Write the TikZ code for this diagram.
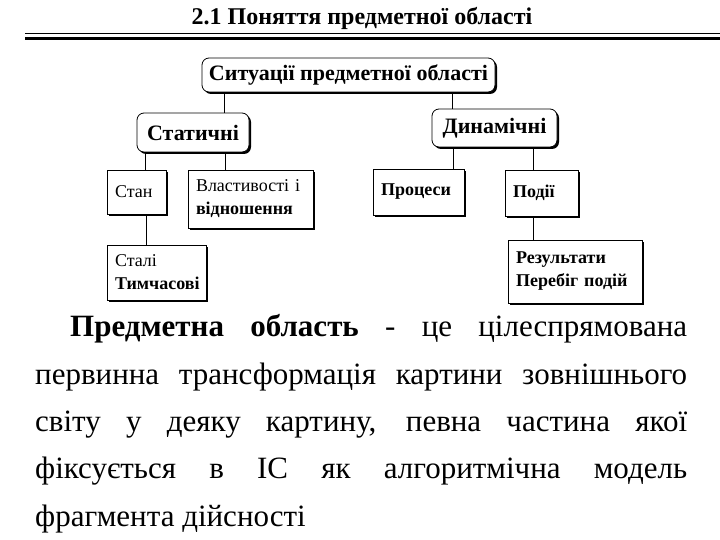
\documentclass[tikz,border=0pt]{standalone}
\usepackage{fontspec}
\setmainfont{Liberation Serif}
\usetikzlibrary{shadows}
\begin{document}
\begin{tikzpicture}[x=1pt,y=-1pt,
  shad/.style={drop shadow={shadow xshift=2pt,shadow yshift=-2pt,fill=black,opacity=1}},
  rbox/.style={draw,fill=white,rounded corners=7pt,thick,shad,inner sep=0pt,font=\bfseries\fontsize{22}{24}\selectfont},
  sbox/.style={draw,fill=white,thick,shad,inner xsep=8pt,inner ysep=0pt,align=left,font=\fontsize{18}{23}\selectfont},
  link/.style={thick}]
\useasboundingbox (0,0) rectangle (720,540);
\node[font=\bfseries\fontsize{24}{26}\selectfont] (title) at (362,18) {2.1 Поняття предметної області};
\draw[line width=3pt] (25,39) -- (720,39);
\draw[line width=1pt] (25,34) -- (720,34);
\node[rbox,minimum width=293,minimum height=34] (sit) at (348.5,75) {Ситуації предметної області};
\node[rbox,minimum width=112,minimum height=39] (stat) at (193,132.5) {Статичні};
\node[rbox,minimum width=125,minimum height=38] (dyn) at (494.5,128) {Динамічні};
\node[sbox,text width=43,minimum height=44] (stan) at (136.5,192) {Стан};
\node[sbox,text width=109,minimum height=58] (vlas) at (250.5,199) {Властивості і\\\textbf{відношення}};
\node[sbox,text width=75,minimum height=46,font=\bfseries\fontsize{18}{23}\selectfont] (proc) at (418.5,192) {Процеси};
\node[sbox,text width=57,minimum height=46,font=\bfseries\fontsize{18}{23}\selectfont] (pod) at (541.5,193) {Події};
\node[sbox,text width=83,minimum height=55] (stali) at (156.5,272.5) {Сталі\\\textbf{Тимчасові}};
\node[sbox,text width=118,minimum height=63,font=\bfseries\fontsize{18}{23}\selectfont] (rez) at (575,271.5) {Результати\\Перебіг подій};
\draw[link] (224,0 |- sit.south) coordinate (a1) -- (a1 |- stat.north);
\draw[link] (452,0 |- sit.south) coordinate (a2) -- (a2 |- dyn.north);
\draw[link] (145,0 |- stat.south) coordinate (b1) -- (b1 |- stan.north);
\draw[link] (225,0 |- stat.south) coordinate (b2) -- (b2 |- vlas.north);
\draw[link] (453,0 |- dyn.south) coordinate (c1) -- (c1 |- proc.north);
\draw[link] (533,0 |- dyn.south) coordinate (c2) -- (c2 |- pod.north);
\draw[link] (146,0 |- stan.south) coordinate (d1) -- (d1 |- stali.north);
\draw[link] (533,0 |- pod.south) coordinate (e1) -- (e1 |- rez.north);
\begin{scope}[every node/.style={anchor=base west,inner sep=0pt,font=\fontsize{31}{33}\selectfont}]
\node (p1) at (70,336) {\makebox[617pt][s]{\textbf{Предметна область} - це цілеспрямована}};
\node (p2) at (35,384) {\makebox[652pt][s]{первинна трансформація картини зовнішнього}};
\node (p3) at (35,431) {\makebox[652pt][s]{світу у деяку картину, певна частина якої}};
\node (p4) at (35,478) {\makebox[652pt][s]{фіксується в ІС як алгоритмічна модель}};
\node (p5) at (35,526) {фрагмента дійсності};
\end{scope}
\end{tikzpicture}
\end{document}
